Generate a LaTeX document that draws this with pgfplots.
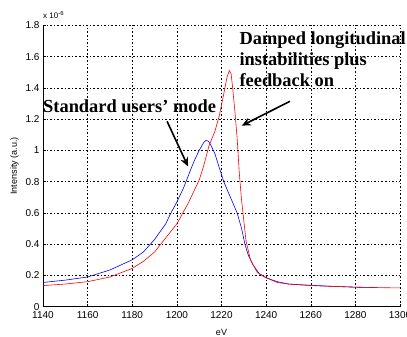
\documentclass[border=0pt]{standalone}
\usepackage{fontspec}
\setmainfont{Liberation Sans}
\newfontfamily\tnr{Liberation Serif}
\usepackage{pgfplots}
\pgfplotsset{compat=1.18}
\usetikzlibrary{arrows.meta}
\begin{document}
\begin{tikzpicture}[x=1pt,y=1pt]
\begin{axis}[
  name=ax,
  at={(0,0)}, anchor=south west,
  scale only axis,
  width=357pt, height=281.4pt,
  xmin=1140, xmax=1300, ymin=0, ymax=1.8,
  xtick={1140,1160,1180,1200,1220,1240,1260,1280,1300},
  ytick={0,0.2,0.4,0.6,0.8,1,1.2,1.4,1.6,1.8},
  axis x line*=bottom, axis y line*=left,
  axis line style={-, black, line width=0.6pt},
  tick align=inside,
  major tick length=3pt,
  tick style={black, line width=0.5pt},
  grid=major,
  major grid style={black, line width=0.5pt, dash pattern=on 1.6pt off 2pt},
  /pgf/number format/assume math mode=true,
  /pgf/number format/1000 sep={},
  ticklabel style={font=\fontsize{10}{12}\selectfont},
  xticklabel style={yshift=-1pt},
  xlabel={eV}, ylabel={Intensity (a.u.)},
  label style={font=\fontsize{9}{11}\selectfont},
  xlabel style={yshift=-4pt},
  ylabel style={yshift=0pt},
  clip=false,
]
\addplot[blue, line width=0.6pt] coordinates {
(1140,0.155) (1150,0.17) (1160,0.19) (1170,0.235) (1180,0.30) (1185,0.35)
(1190,0.43) (1195,0.53) (1197,0.59) (1200,0.67) (1203,0.76) (1206,0.87)
(1208,0.94) (1210,1.0) (1212,1.05) (1213,1.063) (1214,1.06) (1215,1.04)
(1217,0.98) (1219,0.89) (1221,0.80) (1224,0.70) (1227,0.60) (1229,0.50)
(1230.5,0.40) (1232,0.33) (1234,0.27) (1237,0.21) (1240,0.185) (1245,0.16)
(1250,0.145) (1260,0.137) (1270,0.13) (1280,0.125) (1290,0.122)
};
\addplot[red, line width=0.6pt] coordinates {
(1140,0.135) (1150,0.145) (1160,0.16) (1170,0.19) (1180,0.245) (1185,0.29)
(1190,0.35) (1195,0.44) (1200,0.53) (1205,0.66) (1208,0.75) (1210,0.81)
(1212,0.90) (1214.4,1.03) (1217,1.12) (1219,1.22) (1221,1.36) (1222.5,1.47)
(1223.5,1.51) (1224.3,1.49) (1225,1.40) (1226,1.25) (1227,1.08) (1228,0.85)
(1229,0.68) (1230,0.55) (1231,0.42) (1233,0.30) (1236,0.22) (1240,0.185)
(1245,0.155) (1250,0.145) (1260,0.135) (1270,0.13) (1280,0.125) (1290,0.122) (1300,0.12)
};
\node[anchor=base west, inner sep=0pt, font=\fontsize{8}{10}\selectfont] at (axis cs:1140,1.8) [yshift=7pt] {x 10\textsuperscript{-6}};
\node[anchor=base west, inner sep=0pt, font=\tnr\bfseries\fontsize{18.4}{21}\selectfont] at (axis cs:1140,1.242) {Standard users’ mode};
\node[anchor=base west, inner sep=0pt, font=\tnr\bfseries\fontsize{18.4}{21}\selectfont] at (axis cs:1228,1.677) {Damped longitudinal};
\node[anchor=base west, inner sep=0pt, font=\tnr\bfseries\fontsize{18.4}{21}\selectfont] at (axis cs:1228,1.542) {instabilities plus};
\node[anchor=base west, inner sep=0pt, font=\tnr\bfseries\fontsize{18.4}{21}\selectfont] at (axis cs:1228,1.407) {feedback on};
\draw[-{Stealth[length=9pt,width=8pt]}, line width=1.6pt, black] (axis cs:1195.6,1.186) -- (axis cs:1205,0.897);
\draw[-{Stealth[length=9pt,width=8pt]}, line width=1.6pt, black] (axis cs:1250.7,1.314) -- (axis cs:1229.1,1.158);
\end{axis}
\pgfresetboundingbox
\path[use as bounding box] (-43pt,-30.3pt) rectangle (364pt,306.7pt);
\end{tikzpicture}
\end{document}
